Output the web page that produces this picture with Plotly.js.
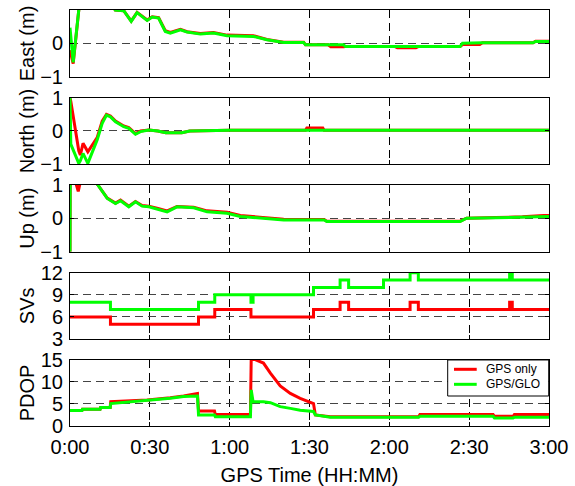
<!DOCTYPE html>
<html><head><meta charset="utf-8">
<script src="https://cdn.plot.ly/plotly-3.0.1.min.js"></script>
<style>html,body{margin:0;padding:0;background:#fff}#chart{width:575px;height:486px}</style>
</head><body><div id="chart"></div>
<script>
// ---- data (time in minutes since 0:00) ----
const seriesNames = ['GPS only', 'GPS/GLO'];
const xTickVals = [0, 30, 60, 90, 120, 150, 180];
const xTickText = ['0:00', '0:30', '1:00', '1:30', '2:00', '2:30', '3:00'];

const eastT   = [0, 0.5, 1.2, 3.3, 6, 10, 14, 17, 20.2, 23, 25.2, 29, 30.9, 33.3, 35.8, 37.7, 41.5, 44, 49, 53.9, 59, 64, 69, 74, 80.3, 87.8, 88.5, 97, 98, 102.8, 103.5, 122, 123, 130, 131, 146.6, 147.5, 154, 155, 174, 175, 180];
const eastGps = [-0.2, -0.4, -0.6, 1.0, 1.6, 1.9, 1.4, 1.0, 0.98, 0.67, 0.93, 0.70, 0.80, 0.77, 0.38, 0.33, 0.42, 0.35, 0.30, 0.33, 0.25, 0.23, 0.23, 0.12, 0.04, 0.04, -0.04, -0.04, -0.1, -0.1, -0.09, -0.09, -0.13, -0.13, -0.09, -0.09, -0.03, -0.03, 0.02, 0.02, 0.07, 0.07];
const eastGlo = [0.47, 0.1, -0.56, 1.0, 1.6, 1.9, 1.4, 1.0, 0.98, 0.66, 0.92, 0.69, 0.79, 0.76, 0.36, 0.31, 0.41, 0.34, 0.28, 0.31, 0.23, 0.22, 0.21, 0.11, 0.03, 0.03, -0.04, -0.04, -0.04, -0.04, -0.09, -0.09, -0.09, -0.09, -0.09, -0.09, 0.01, 0.02, 0.02, 0.02, 0.06, 0.06];

const northT   = [0, 0.3, 3.3, 3.9, 4.9, 6.7, 10.2, 12.1, 13.7, 15.2, 17.1, 20.2, 22.1, 24.6, 26.5, 29.6, 33, 36, 42, 45, 60, 88.5, 89, 95, 95.5, 180];
const northGps = [1.0, 0.9, -0.6, -0.73, -0.37, -0.63, -0.2, 0.3, 0.5, 0.45, 0.3, 0.15, 0.1, -0.08, 0.0, 0.03, 0.0, -0.05, -0.05, 0.0, 0.02, 0.02, 0.09, 0.09, 0.02, 0.02];
const northGlo = [1.0, -0.4, -0.98, -0.9, -0.68, -0.98, -0.27, 0.23, 0.48, 0.43, 0.28, 0.13, 0.08, -0.1, -0.02, 0.03, 0.0, -0.05, -0.05, 0.0, 0.02, 0.02, 0.02, 0.02, 0.02, 0.02];

const upT   = [0, 0.1, 2.2, 3.1, 3.8, 6, 10.4, 14, 17.1, 19, 22.1, 24.6, 27.1, 29.6, 32.7, 36.5, 40.2, 46.5, 51.5, 59, 64, 71.5, 80.3, 95.5, 96.5, 146.6, 149, 160, 170, 178, 180];
const upGps = [-1.0, 1.5, 1.05, 0.8, 1.05, 1.4, 1.0, 0.6, 0.45, 0.54, 0.36, 0.5, 0.38, 0.36, 0.3, 0.22, 0.35, 0.33, 0.22, 0.18, 0.08, 0.02, -0.03, -0.04, -0.09, -0.09, 0.0, 0.02, 0.04, 0.08, 0.08];
const upGlo = [-1.0, 1.5, 1.6, 1.6, 1.6, 1.4, 1.0, 0.59, 0.44, 0.52, 0.34, 0.49, 0.36, 0.34, 0.27, 0.19, 0.34, 0.31, 0.19, 0.15, 0.05, 0.0, -0.05, -0.05, -0.1, -0.1, 0.0, 0.01, 0.03, 0.05, 0.05];

const svT   = [0, 15.2, 48.3, 54.4, 68.0, 68.8, 91.5, 101.5, 104.7, 117.8, 127.8, 130.9, 165.2, 166.2, 180];
const svGps = [6, 5, 6, 7, 6, 6, 7, 8, 7, 7, 8, 7, 8, 7, 7];
const svGlo = [8, 7, 8, 9, 8, 9, 10, 11, 10, 11, 12, 11, 12, 11, 11];

const pdopT   = [0, 4.5, 4.7, 11.3, 11.5, 15.1, 15.3, 29, 37.7, 42.7, 47.9, 48.3, 54.3, 54.6, 67.8, 68.1, 68.8, 69.5, 72.7, 75.3, 79, 82.8, 86.5, 91.5, 92.2, 97.8, 131, 131.5, 159, 159.5, 166.5, 167, 180];
const pdopGps = [3.5, 3.5, 3.8, 3.8, 4.2, 4.2, 5.5, 5.9, 6.4, 6.8, 7.4, 3.4, 3.4, 2.6, 2.6, 15.5, 15.3, 15.1, 14.3, 12.0, 9.1, 7.4, 6.3, 5.1, 2.5, 2.1, 2.1, 2.6, 2.6, 2.2, 2.2, 2.6, 2.6];
const pdopGlo = [3.5, 3.5, 3.8, 3.8, 4.2, 4.2, 5.1, 5.8, 6.3, 6.7, 6.8, 2.5, 2.5, 2.1, 2.1, 8.2, 5.5, 5.5, 5.5, 5.3, 4.4, 4.0, 3.6, 3.3, 2.5, 2.0, 2.0, 2.2, 2.2, 1.8, 1.8, 2.0, 2.0];

const panelTitles = ['East (m)', 'North (m)', 'Up (m)', 'SVs', 'PDOP'];
const enuTicks = [-1, 0, 1];
const svTicks = [3, 6, 9, 12];
const pdopTicks = [0, 5, 10, 15];

// ---- styling ----
const colors = ['#ff0000', '#00ff00'];
const FONT = 'Liberation Sans, Arial, sans-serif';
const panels = [
  {t: eastT, a: eastGps, b: eastGlo, range: [-1, 1], ticks: enuTicks, dom: [0.839, 1.0], shape: 'linear'},
  {t: northT, a: northGps, b: northGlo, range: [-1, 1], ticks: enuTicks, dom: [0.6298, 0.7885], shape: 'linear'},
  {t: upT, a: upGps, b: upGlo, range: [-1, 1], ticks: enuTicks, dom: [0.419, 0.580], shape: 'linear'},
  {t: svT, a: svGps, b: svGlo, range: [3, 12], ticks: svTicks, dom: [0.2091, 0.3685], shape: 'hv'},
  {t: pdopT, a: pdopGps, b: pdopGlo, range: [0, 15], ticks: pdopTicks, dom: [0, 0.1587], shape: 'linear'}
];

const traces = [];
const layout = {
  width: 575, height: 486,
  margin: {l: 70, r: 26, t: 10, b: 60},
  paper_bgcolor: '#fff', plot_bgcolor: '#fff',
  font: {family: FONT, size: 20, color: '#000'},
  showlegend: false,
  shapes: [], annotations: []
};

panels.forEach((p, i) => {
  const n = 5 - i; // bottom panel uses x/y
  const xs = n === 1 ? '' : String(n);
  const isBottom = i === 4;
  [p.a, p.b].forEach((vals, k) => {
    traces.push({
      x: p.t, y: vals, type: 'scatter', mode: 'lines',
      name: seriesNames[k], legendgroup: seriesNames[k],
      line: {color: colors[k], width: 3, shape: p.shape},
      xaxis: 'x' + xs, yaxis: 'y' + xs, hoverinfo: 'skip'
    });
  });
  layout['xaxis' + xs] = {
    domain: [0, 1], anchor: 'y' + xs, range: [0, 180],
    tickvals: xTickVals, ticktext: xTickText,
    showticklabels: isBottom, ticks: 'inside', ticklen: 4, tickcolor: '#000',
    ticklabelstandoff: 3,
    showgrid: true, gridcolor: '#000', griddash: '8px,5px', gridwidth: 1,
    showline: true, linecolor: '#000', linewidth: 1, mirror: 'ticks',
    zeroline: false,
    tickfont: {family: FONT, size: 20, color: '#000'},
    title: isBottom ? {text: 'GPS Time (HH:MM)', font: {family: FONT, size: 20, color: '#000'}, standoff: 10} : {text: ''}
  };
  if (!isBottom) layout['xaxis' + xs].matches = 'x';
  layout['yaxis' + xs] = {
    domain: p.dom, anchor: 'x' + xs, range: p.range,
    tickvals: p.ticks, ticks: 'inside', ticklen: 4, tickcolor: '#000',
    ticklabelstandoff: 2,
    showgrid: true, gridcolor: '#444', griddash: '8px,5px', gridwidth: 1,
    showline: true, linecolor: '#000', linewidth: 1, mirror: 'ticks',
    zeroline: false,
    tickfont: {family: FONT, size: 20, color: '#000'},
    title: {text: panelTitles[i], font: {family: FONT, size: 20, color: '#000'}, standoff: 0}
  };
});

// ---- legend box (drawn in PDOP panel's upper right) ----
const legBox = {x0: 0.7885, x1: 0.9994, y0: 0.0721, y1: 0.1587};
const legRows = [0.1363, 0.1002];
layout.shapes.push({type: 'rect', xref: 'paper', yref: 'paper', x0: legBox.x0, x1: legBox.x1, y0: legBox.y0, y1: legBox.y1,
  line: {color: '#000', width: 1}, fillcolor: '#fff', layer: 'above'});
seriesNames.forEach((nm, k) => {
  layout.shapes.push({type: 'line', xref: 'paper', yref: 'paper', x0: 0.8017, x1: 0.8491, y0: legRows[k], y1: legRows[k],
    line: {color: colors[k], width: 3}, layer: 'above'});
  layout.annotations.push({xref: 'paper', yref: 'paper', x: 0.8649, y: legRows[k], xanchor: 'left', yanchor: 'middle',
    text: nm, showarrow: false, font: {family: FONT, size: 12, color: '#000'}});
});

Plotly.newPlot('chart', traces, layout, {displayModeBar: false, staticPlot: true});
</script>
</body></html>
